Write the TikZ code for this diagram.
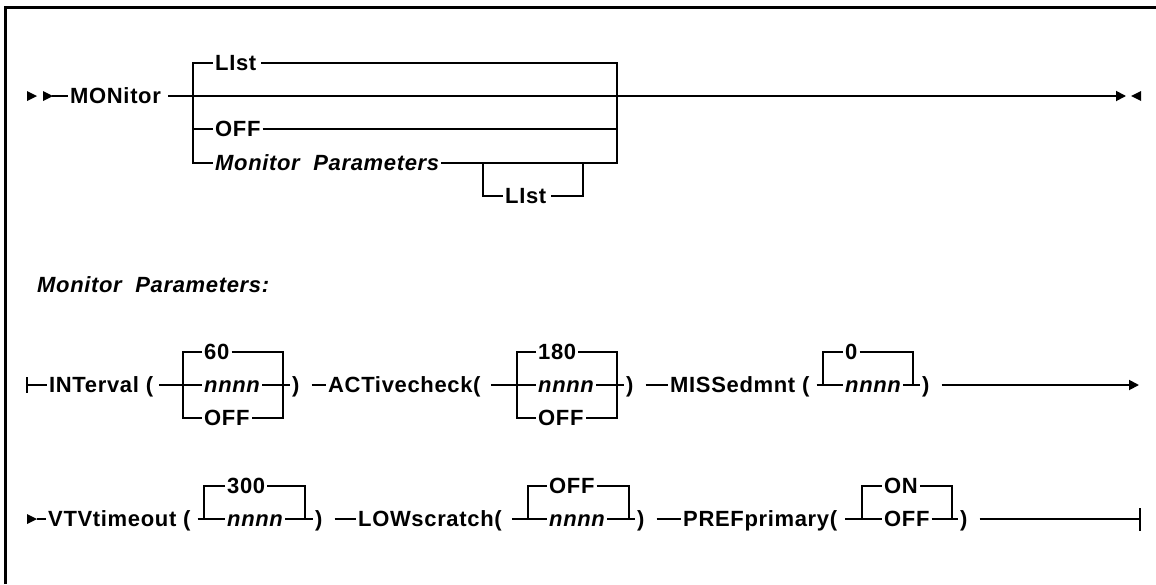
\documentclass[tikz,border=0pt]{standalone}
\usepackage{fontspec}
\newfontfamily\synfamily[LetterSpace=3]{Liberation Sans}
\newcommand\synfont{\synfamily\bfseries\fontsize{22pt}{26pt}\selectfont}
\usetikzlibrary{arrows.meta}
\tikzset{
  syn-line/.style={line width=1.8pt},
  syn-frame/.style={line width=3pt},
  syn-kw/.style={font=\synfont,anchor=west,inner xsep=2pt,inner ysep=0pt,
    text height=15.5pt,text depth=0pt},
  syn-var/.style={syn-kw,font=\synfont\itshape},
  syn-arrow/.style={-{Triangle[length=10pt,width=10pt]}},
  tri/.pic={\fill (0,-5) -- (10,0) -- (0,5) -- cycle;},
}

\begin{document}
\begin{tikzpicture}[x=1pt,y=-1pt]
  \useasboundingbox (0,0) rectangle (1156,584);
  \draw[syn-frame] (5,584) -- (5,7) -- (1156,7);

  % MONitor statement
  \pic at (27,96) {tri};
  \pic at (43,96) {tri};
  \coordinate (start) at (52,96);
  \node[syn-kw] (monitor) at (68,96) {MONitor};
  \node[syn-kw] (list) at (213,63) {LIst};
  \node[syn-kw] (off) at (213,129) {OFF};
  \node[syn-var] (mparm) at (213,163) {Monitor\ \ Parameters};
  \node[syn-kw] (sublist) at (503,196) {LIst};
  \coordinate (stop) at (1126,96);
  \draw[syn-line] (start) -- (monitor.west);
  \draw[syn-line,syn-arrow] ([xshift=5pt]monitor.east) -- (stop);
  \pic[rotate=180] at (1141,96) {tri};
  \draw[syn-line] (list.west) -- (193,63) -- (193,163) -- (mparm.west);
  \draw[syn-line] (off.west) -- (193,129);
  \draw[syn-line] ([xshift=3pt]list.east) -- (617,63) -- (617,163) -- (mparm.east);
  \draw[syn-line] (off.east) -- (617,129);
  \draw[syn-line] (483,163) -- (483,196) -- (sublist.west);
  \draw[syn-line] ([xshift=3pt]sublist.east) -- (583,196) -- (583,163);

  % Monitor Parameters fragment
  \node[syn-var] (mphead) at (35,285) {Monitor\ \ Parameters:};

  % first line
  \coordinate (frag) at (27,385);
  \draw[syn-line] (27,377) -- (27,393);
  \node[syn-kw] (intv) at (47,385) {INTerval (};
  \node[syn-kw] (intv-def) at (202,352) {60};
  \node[syn-var] (intv-val) at (202,385) {nnnn};
  \node[syn-kw] (intv-off) at (202,418) {OFF};
  \node[syn-kw] (intv-rp) at (290,385) {)};
  \draw[syn-line] (frag) -- (intv.west);
  \draw[syn-line] ([xshift=4pt]intv.east) -- (intv-val.west);
  \draw[syn-line] (intv-def.west) -- (183,352) -- (183,418) -- (intv-off.west);
  \draw[syn-line] (intv-def.east) -- (283,352) -- (283,418) -- (intv-off.east);
  \draw[syn-line] (intv-val.east) -- (intv-rp.west);

  \node[syn-kw] (actv) at (326,385) {ACTivecheck(};
  \node[syn-kw] (actv-def) at (536,352) {180};
  \node[syn-var] (actv-val) at (536,385) {nnnn};
  \node[syn-kw] (actv-off) at (536,418) {OFF};
  \node[syn-kw] (actv-rp) at (624,385) {)};
  \draw[syn-line] ([xshift=10pt]intv-rp.east) -- (actv.west);
  \draw[syn-line] ([xshift=8pt]actv.east) -- (actv-val.west);
  \draw[syn-line] (actv-def.west) -- (517,352) -- (517,418) -- (actv-off.west);
  \draw[syn-line] (actv-def.east) -- (617,352) -- (617,418) -- (actv-off.east);
  \draw[syn-line] (actv-val.east) -- (actv-rp.west);

  \node[syn-kw] (missd) at (668,385) {MISSedmnt (};
  \node[syn-kw] (missd-def) at (843,352) {0};
  \node[syn-var] (missd-val) at (843,385) {nnnn};
  \node[syn-kw] (missd-rp) at (920,385) {)};
  \coordinate (cont) at (1139,385);
  \draw[syn-line] ([xshift=10pt]actv-rp.east) -- (missd.west);
  \draw[syn-line] ([xshift=5pt]missd.east) -- (missd-val.west);
  \draw[syn-line] (missd-def.west) -- (823,352) -- (823,385);
  \draw[syn-line] (missd-def.east) -- (913,352) -- (913,385);
  \draw[syn-line] (missd-val.east) -- (missd-rp.west);
  \draw[syn-line,syn-arrow] ([xshift=10pt]missd-rp.east) -- (cont);

  % second line
  \pic at (27,519) {tri};
  \coordinate (resume) at (37,519);
  \node[syn-kw] (vtv) at (46,519) {VTVtimeout (};
  \node[syn-kw] (vtv-def) at (225,486) {300};
  \node[syn-var] (vtv-val) at (225,519) {nnnn};
  \node[syn-kw] (vtv-rp) at (313,519) {)};
  \draw[syn-line] (resume) -- (vtv.west);
  \draw[syn-line] ([xshift=5pt]vtv.east) -- (vtv-val.west);
  \draw[syn-line] (vtv-def.west) -- (204,486) -- (204,519);
  \draw[syn-line] (vtv-def.east) -- (305,486) -- (305,519);
  \draw[syn-line] (vtv-val.east) -- (vtv-rp.west);

  \node[syn-kw] (lows) at (356,519) {LOWscratch(};
  \node[syn-kw] (lows-def) at (547,486) {OFF};
  \node[syn-var] (lows-val) at (547,519) {nnnn};
  \node[syn-kw] (lows-rp) at (635,519) {)};
  \draw[syn-line] ([xshift=10pt]vtv-rp.east) -- (lows.west);
  \draw[syn-line] ([xshift=8pt]lows.east) -- (lows-val.west);
  \draw[syn-line] (lows-def.west) -- (528,486) -- (528,519);
  \draw[syn-line] (lows-def.east) -- (629,486) -- (629,519);
  \draw[syn-line] (lows-val.east) -- (lows-rp.west);

  \node[syn-kw] (pref) at (681,519) {PREFprimary(};
  \node[syn-kw] (pref-def) at (882,486) {ON};
  \node[syn-kw] (pref-off) at (882,519) {OFF};
  \node[syn-kw] (pref-rp) at (958,519) {)};
  \coordinate (finish) at (1140,519);
  \draw[syn-line] ([xshift=10pt]lows-rp.east) -- (pref.west);
  \draw[syn-line] ([xshift=6pt]pref.east) -- (pref-off.west);
  \draw[syn-line] (pref-def.west) -- (862,486) -- (862,519);
  \draw[syn-line] (pref-def.east) -- (952,486) -- (952,519);
  \draw[syn-line] (pref-off.east) -- (pref-rp.west);
  \draw[syn-line] ([xshift=10pt]pref-rp.east) -- (finish);
  \draw[syn-line] (1140,508) -- (1140,531);
\end{tikzpicture}
\end{document}
